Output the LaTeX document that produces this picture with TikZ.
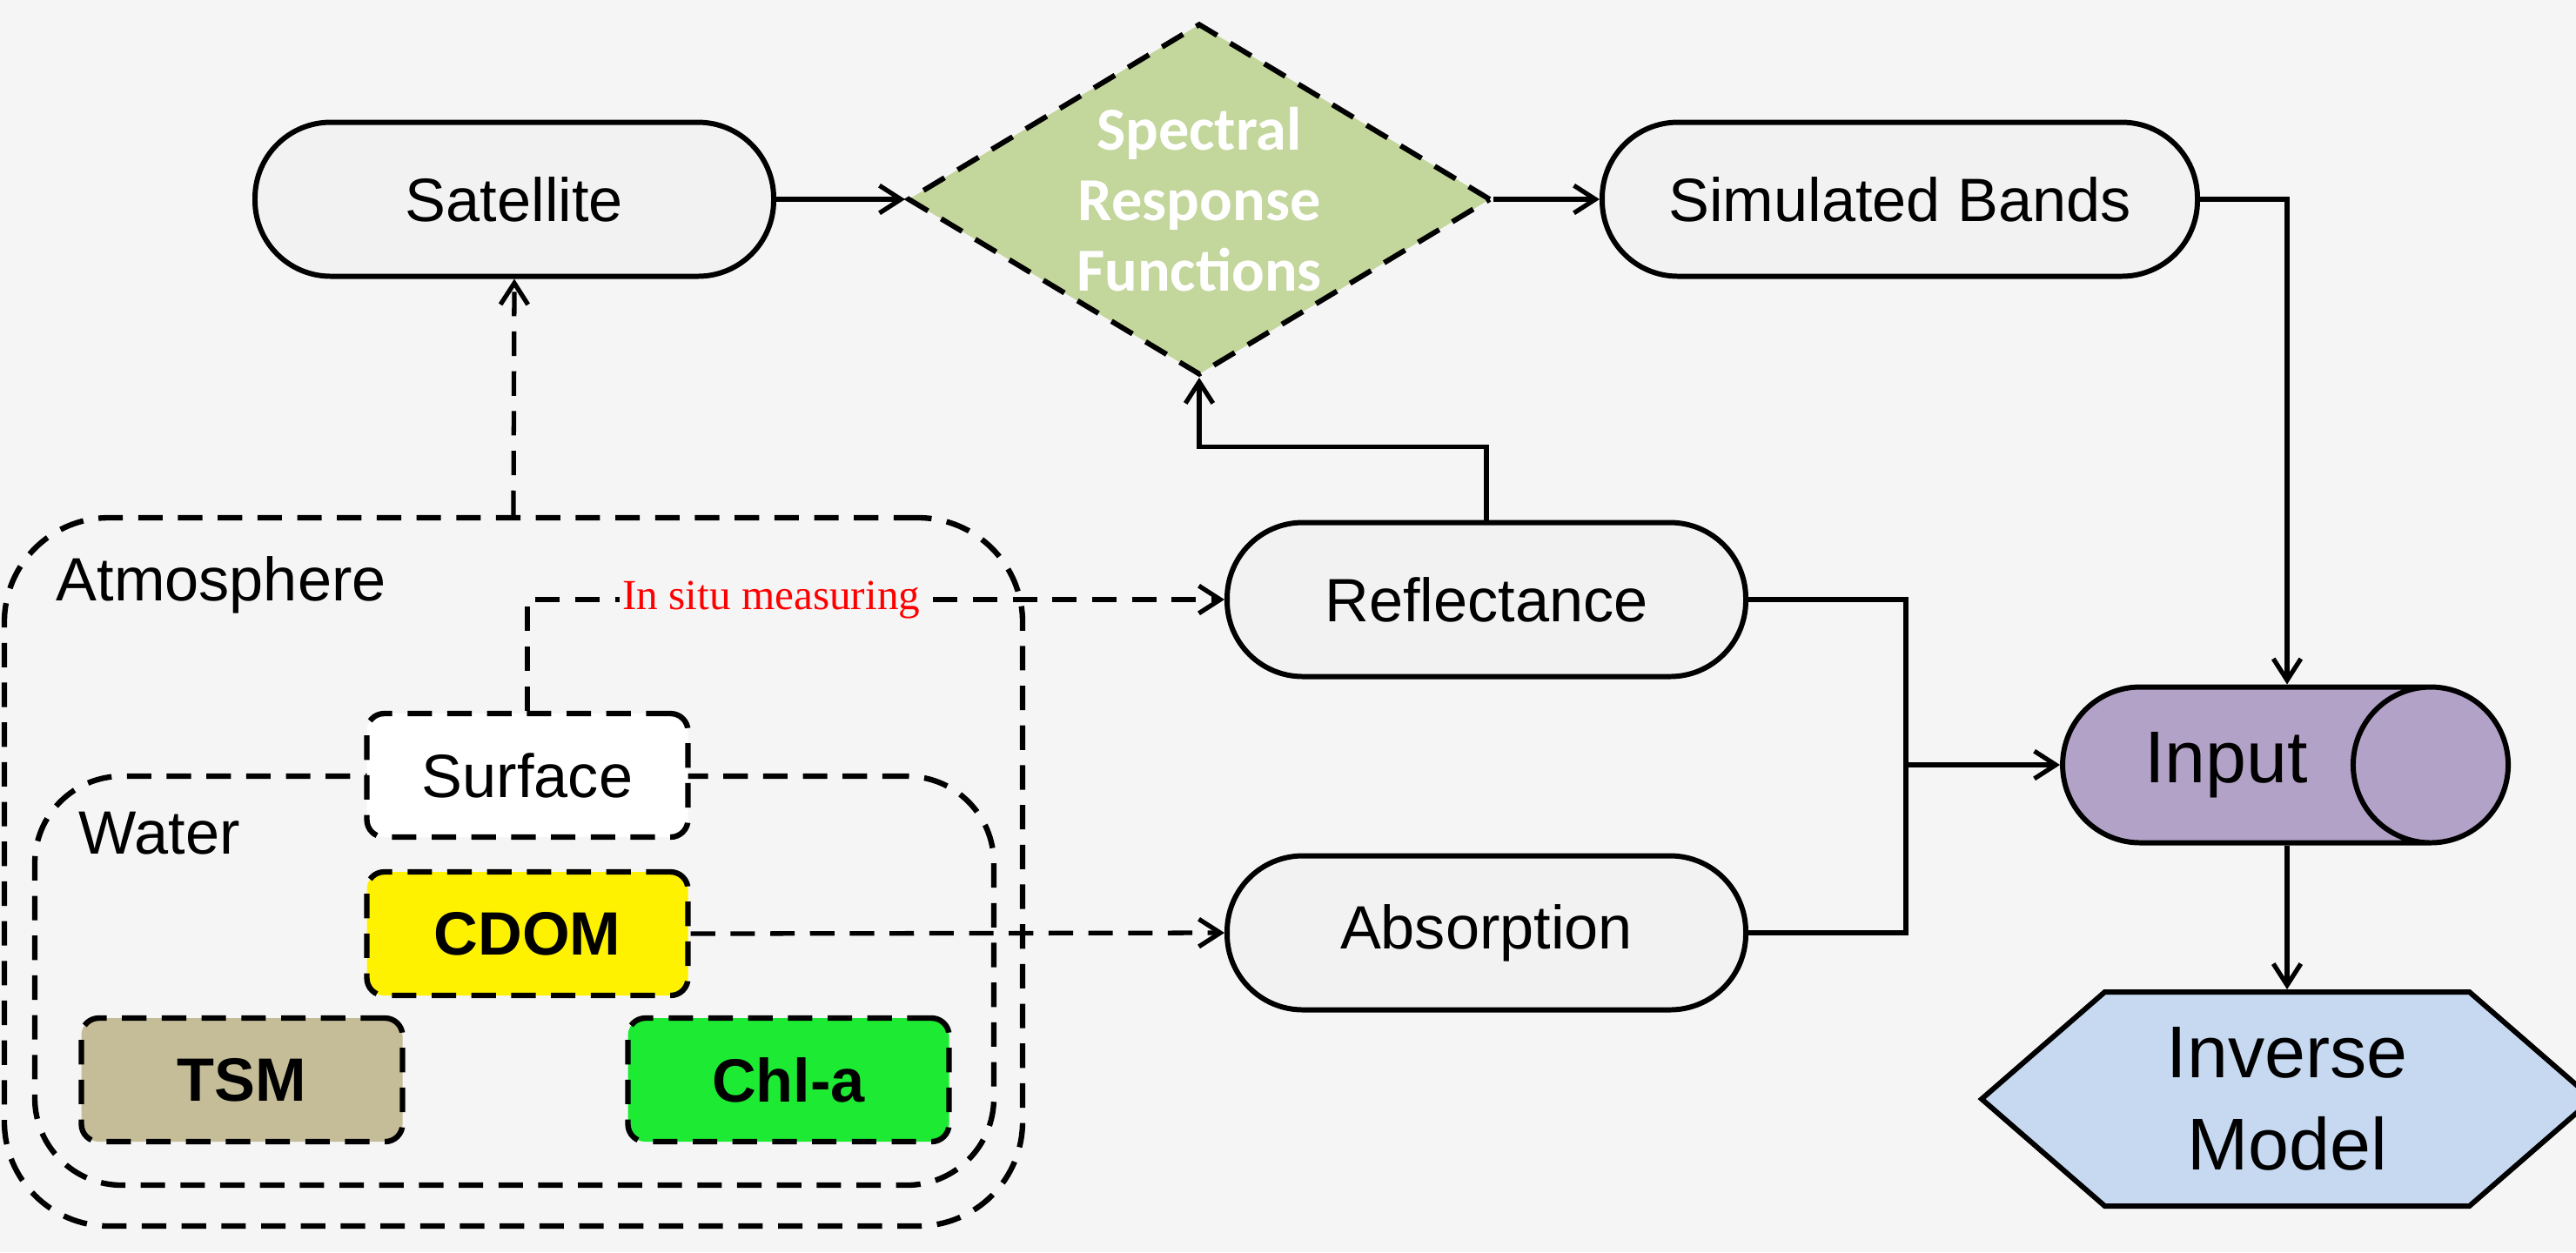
\documentclass[tikz,border=0pt]{standalone}
\usepackage{fontspec}
\setmainfont{Liberation Sans}
\newfontfamily\srffont{Liberation Serif}
\newfontfamily\calfont{Carlito}
\usetikzlibrary{shapes.geometric, shapes.symbols, arrows, arrows.meta}
\definecolor{bg_gray}{HTML}{F5F5F5}
\definecolor{box_gray}{HTML}{F2F2F2}
\definecolor{srf_green}{HTML}{C3D69B}
\definecolor{inp_purple}{HTML}{B3A2C7}
\definecolor{inv_blue}{HTML}{C6D9F1}
\definecolor{tsm_tan}{HTML}{C4BD97}
\definecolor{chl_green}{HTML}{1DEB33}
\tikzstyle{term_op} = [rectangle, rounded corners=0.87cm, minimum width=5.96cm, minimum height=1.77cm, text centered, draw=black, line width=1.7pt, fill=box_gray, font=\fontsize{20}{24}\selectfont]
\tikzstyle{comp_op} = [rectangle, rounded corners=0.2cm, minimum width=3.69cm, minimum height=1.42cm, text centered, draw=black, line width=1.8pt, dash pattern=on 8pt off 5pt, font=\fontsize{20}{24}\selectfont\bfseries]
\tikzstyle{layer_op} = [rectangle, draw=black, line width=1.8pt, dash pattern=on 8pt off 5pt]
\tikzstyle{flow_line} = [-{Straight Barb[length=7pt, width=9pt]}, line width=1.5pt]
\tikzstyle{dash_line} = [flow_line, dash pattern=on 8pt off 5pt]

\begin{document}
\begin{tikzpicture}
\fill[bg_gray] (0,0) rectangle (29.6,-14.39);
\useasboundingbox (0,0) rectangle (29.6,-14.39);
% layers
\node (atm) [layer_op, rounded corners=1.2cm, minimum width=11.7cm, minimum height=8.14cm] at (5.90,-10.02) {};
\node (wat) [layer_op, rounded corners=1.0cm, minimum width=11.02cm, minimum height=4.7cm] at (5.91,-11.27) {};
\node (atm_lbl) [anchor=west, inner sep=0pt, font=\fontsize{20}{24}\selectfont] at (0.64,-6.72) {Atmosphere};
\node (wat_lbl) [anchor=west, inner sep=0pt, font=\fontsize{20}{24}\selectfont] at (0.90,-9.58) {Water};
\node (surf) [comp_op, fill=white, font=\fontsize{20}{24}\selectfont] at (6.06,-8.91) {Surface};
\node (cdom) [comp_op, fill=yellow] at (6.06,-10.73) {CDOM};
\node (tsm) [comp_op, fill=tsm_tan] at (2.78,-12.41) {TSM};
\node (chl) [comp_op, fill=chl_green] at (9.06,-12.41) {Chl-a};
% top row
\node (sat) [term_op] at (5.91,-2.29) {Satellite};
\node (srf) [diamond, aspect=1.66, minimum width=6.7cm, minimum height=4.04cm, inner sep=0pt, align=center, fill=srf_green, draw=black, line width=1.7pt, dash pattern=on 8pt off 5pt, text=white, font=\calfont\fontsize{20}{23}\selectfont\bfseries] at (13.78,-2.29) {Spectral\\Response\\Functions};
\node (sim) [term_op, minimum width=6.84cm] at (21.83,-2.29) {Simulated Bands};
% middle
\node (refl) [term_op] at (17.08,-6.89) {Reflectance};
\node (abs) [term_op] at (17.08,-10.72) {Absorption};
\node (inp) [cylinder, aspect=1.8, minimum width=1.79cm, minimum height=5.12cm, draw=black, line width=1.7pt, fill=inp_purple, font=\fontsize{24}{28}\selectfont] at (25.58,-8.79) {Input};
\node (inv) [signal, signal to=east and west, signal pointer angle=82, minimum width=7.02cm, minimum height=2.46cm, inner sep=0pt, align=center, draw=black, line width=1.7pt, fill=inv_blue, font=\fontsize{24}{30}\selectfont] at (26.28,-12.63) {Inverse\\Model};
\coordinate (mrg) at (21.90,-8.79);
% connectors
\draw[flow_line] (sat.east) -- (srf.west);
\draw[flow_line] (srf.east) -- (sim.west);
\draw[flow_line] (sim.east) -| (inv.north |- inp.north);
\draw[flow_line] (refl.north) -- ++(0,0.84) -| (srf.south);
\draw[line width=1.5pt] (refl.east) -| (mrg);
\draw[line width=1.5pt] (abs.east) -| (mrg);
\draw[flow_line] (mrg) -- (inp.west);
\draw[flow_line] (inv.north |- inp.south) -- (inv.north);
\draw[dash_line] (atm.north) -- (sat.south);
\draw[dash_line] (surf.north) |- (refl.west) node[pos=0.675, fill=bg_gray, inner sep=1pt, text=red, font=\srffont\fontsize{14}{16}\selectfont] (insitu_lbl) {In situ measuring};
\draw[dash_line] (cdom.east) -- (abs.west);
\end{tikzpicture}
\end{document}
